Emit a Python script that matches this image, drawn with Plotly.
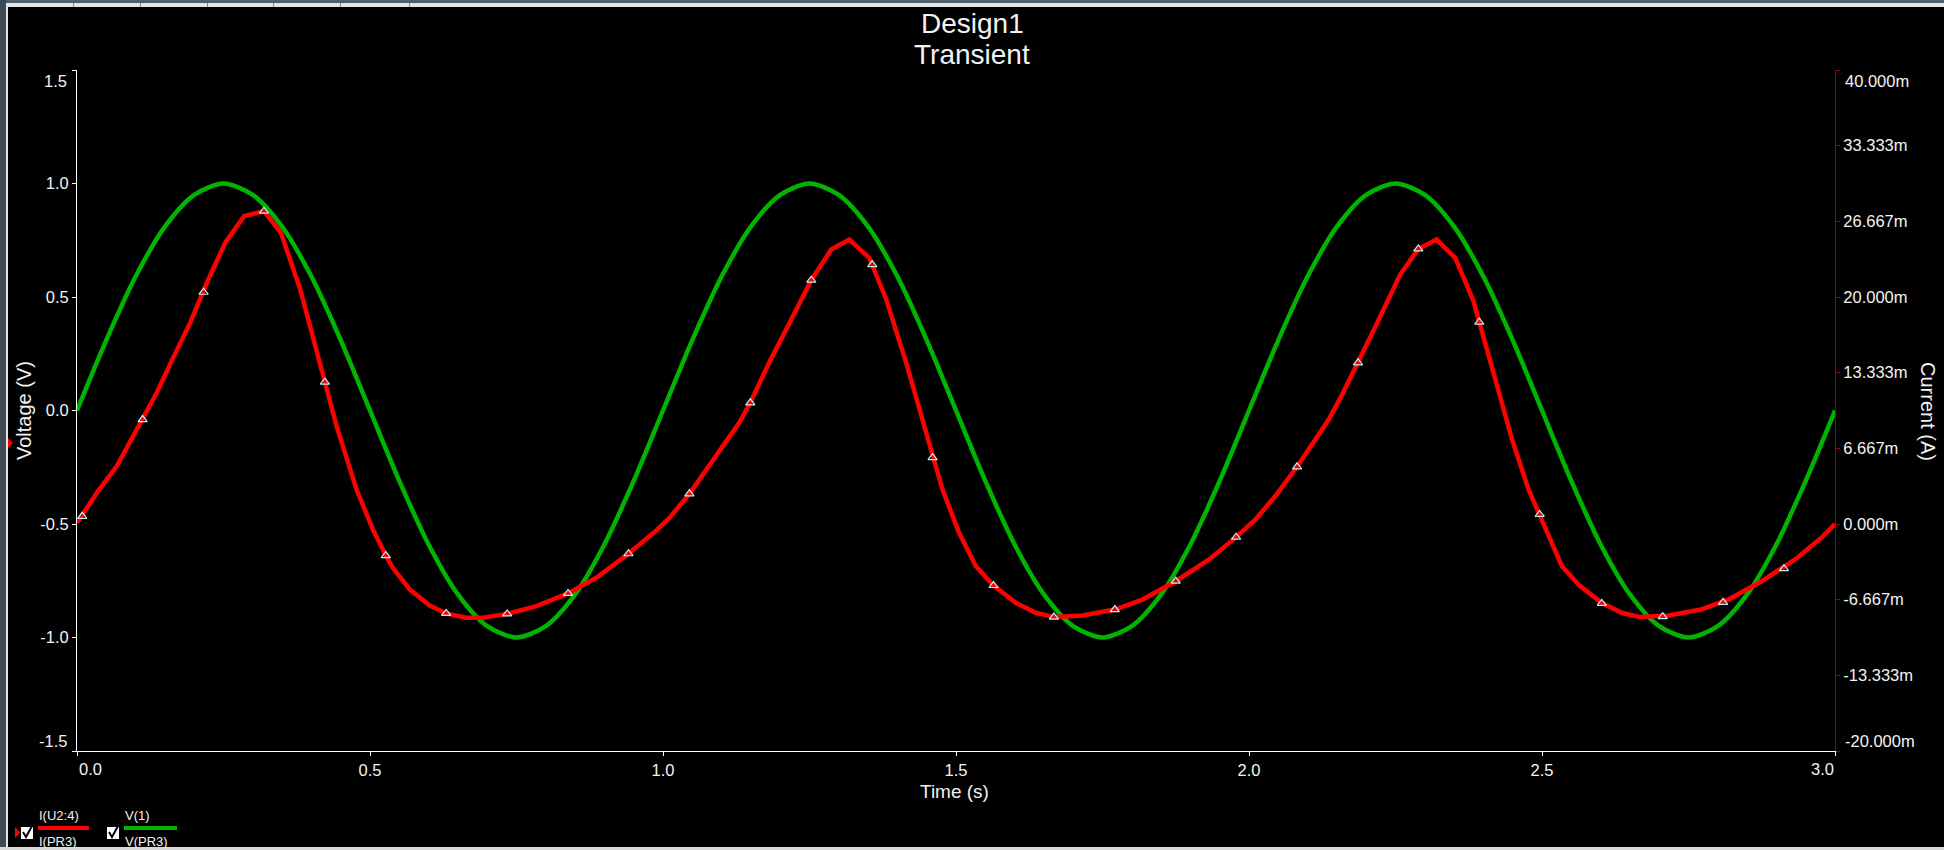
import plotly.graph_objects as go

# ---------------- data ----------------
green_t = [0.00, 0.05, 0.10, 0.15, 0.20, 0.25, 0.30, 0.35, 0.40, 0.45,
           0.50, 0.55, 0.60, 0.65, 0.70, 0.75, 0.80, 0.85, 0.90, 0.95,
           1.00, 1.05, 1.10, 1.15, 1.20, 1.25, 1.30, 1.35, 1.40, 1.45,
           1.50, 1.55, 1.60, 1.65, 1.70, 1.75, 1.80, 1.85, 1.90, 1.95,
           2.00, 2.05, 2.10, 2.15, 2.20, 2.25, 2.30, 2.35, 2.40, 2.45,
           2.50, 2.55, 2.60, 2.65, 2.70, 2.75, 2.80, 2.85, 2.90, 2.95, 3.00]
green_v = [0.00, 0.31, 0.59, 0.81, 0.95, 1.00, 0.95, 0.81, 0.59, 0.31,
           0.00, -0.31, -0.59, -0.81, -0.95, -1.00, -0.95, -0.81, -0.59, -0.31,
           0.00, 0.31, 0.59, 0.81, 0.95, 1.00, 0.95, 0.81, 0.59, 0.31,
           0.00, -0.31, -0.59, -0.81, -0.95, -1.00, -0.95, -0.81, -0.59, -0.31,
           0.00, 0.31, 0.59, 0.81, 0.95, 1.00, 0.95, 0.81, 0.59, 0.31,
           0.00, -0.31, -0.59, -0.81, -0.95, -1.00, -0.95, -0.81, -0.59, -0.31, 0.00]

# current I(U2:4) in mA
red_t = [0.000, 0.036, 0.068, 0.093, 0.136, 0.164, 0.193, 0.224, 0.253, 0.285,
         0.319, 0.348, 0.381, 0.423, 0.443, 0.477, 0.505, 0.527, 0.539, 0.568,
         0.602, 0.630, 0.664, 0.693, 0.734, 0.784, 0.838, 0.886, 0.941, 0.988,
         1.011, 1.045, 1.090, 1.130, 1.149, 1.181, 1.216, 1.253, 1.287, 1.318,
         1.352, 1.381, 1.415, 1.460, 1.477, 1.505, 1.534, 1.564, 1.602, 1.636,
         1.667, 1.716, 1.771, 1.818, 1.875, 1.932, 1.978, 2.011, 2.045, 2.082,
         2.107, 2.136, 2.159, 2.186, 2.216, 2.258, 2.289, 2.320, 2.352, 2.383,
         2.393, 2.420, 2.449, 2.477, 2.496, 2.534, 2.564, 2.602, 2.636, 2.667,
         2.716, 2.771, 2.818, 2.875, 2.932, 2.978, 3.000]
red_i = [0.10, 2.90, 5.10, 7.44, 11.56, 14.64, 17.72, 21.54, 24.78, 27.12,
         27.56, 25.66, 20.66, 12.50, 8.62, 3.04, -0.48, -2.78, -3.86, -5.78,
         -7.18, -7.88, -8.26, -8.26, -7.92, -7.24, -6.12, -4.74, -2.62, -0.60,
         0.54, 2.66, 5.98, 8.92, 10.68, 14.20, 17.72, 21.48, 24.18, 25.06,
         23.44, 19.78, 14.20, 5.84, 3.04, -0.76, -3.72, -5.42, -6.94, -7.82,
         -8.20, -8.06, -7.54, -6.66, -5.04, -3.12, -1.16, 0.40, 2.46, 5.04,
         7.00, 9.20, 11.40, 14.20, 17.42, 21.98, 24.24, 25.06, 23.44, 19.64,
         17.78, 12.74, 7.44, 3.04, 0.84, -3.72, -5.42, -6.94, -7.82, -8.20,
         -8.06, -7.54, -6.66, -5.04, -3.12, -1.16, 0.00]

marker_t = [0.009, 0.112, 0.216, 0.319, 0.423, 0.527, 0.630, 0.734, 0.838, 0.941,
            1.045, 1.149, 1.253, 1.357, 1.460, 1.564, 1.667, 1.771, 1.875, 1.978,
            2.082, 2.186, 2.289, 2.393, 2.496, 2.602, 2.706, 2.809, 2.913]
marker_i = [0.68, 9.20, 20.42, 27.56, 12.50, -2.78, -7.88, -7.92, -6.12, -2.62,
            2.66, 10.68, 21.48, 22.86, 5.84, -5.42, -8.20, -7.54, -5.04, -1.16,
            5.04, 14.20, 24.24, 17.78, 0.84, -7.00, -8.16, -6.90, -3.94]

x_ticks = [0.0, 0.5, 1.0, 1.5, 2.0, 2.5, 3.0]
x_ticktext = ["0.0", "0.5", "1.0", "1.5", "2.0", "2.5", "3.0"]
v_ticks = [-1.5, -1.0, -0.5, 0.0, 0.5, 1.0, 1.5]
v_ticktext = ["-1.5", "-1.0", "-0.5", "0.0", "0.5", "1.0", "1.5"]
i_ticks = [-20.0, -13.333, -6.667, 0.0, 6.667, 13.333, 20.0, 26.667, 33.333, 40.0]
i_ticktext = ["-20.000m", "-13.333m", "-6.667m", "0.000m", "6.667m",
              "13.333m", "20.000m", "26.667m", "33.333m", "40.000m"]

title_lines = ["Design1", "Transient"]
legend_red = ["I(U2:4)", "I(PR3)"]
legend_green = ["V(1)", "V(PR3)"]

# ---------------- layout geometry (pixels) ----------------
W, H = 1944, 850
L, R, T, B = 77, 109, 70, 99
PW, PH = W - L - R, H - T - B
FONT = "Liberation Sans, Arial, sans-serif"
TXT = "#f2f2f2"
TICK_SIZE = 16.5


def px(x):
    return (x - L) / PW


def py(y):
    return (H - B - y) / PH


fig = go.Figure()
fig.add_trace(go.Scatter(x=red_t, y=red_i, yaxis="y2", mode="lines",
                         line=dict(color="#ff0000", width=4.5), hoverinfo="skip"))
fig.add_trace(go.Scatter(x=green_t, y=green_v, mode="lines",
                         line=dict(color="#00b400", width=4.5, shape="spline", smoothing=0.8),
                         hoverinfo="skip"))
fig.add_trace(go.Scatter(x=marker_t, y=marker_i, yaxis="y2", mode="markers",
                         marker=dict(symbol="triangle-up-open", size=8,
                                     color="#bfeff2", line=dict(width=1.2, color="#bfeff2")),
                         hoverinfo="skip"))

shapes = []
annotations = []


def rect(x0, y0, x1, y1, color):
    shapes.append(dict(type="rect", xref="paper", yref="paper",
                       x0=px(x0), x1=px(x1), y0=py(y1), y1=py(y0),
                       fillcolor=color, line=dict(width=0), layer="above"))


# window frame bands
rect(0, 0, W, 3, "#4f5f6c")
rect(0, 3, W, 7, "#e4e4e4")
rect(0, 0, 6, H, "#3e4b56")
rect(6, 7, 8, H, "#e4e4e4")
rect(0, 847, W, H, "#d8d8d8")
for xm in [73, 140, 207, 273, 340, 409]:
    rect(xm, 3, xm + 1, 7, "#8a8a8a")

# small red marker at left border
shapes.append(dict(type="path", xref="paper", yref="paper",
                   path=f"M {px(8)},{py(438)} L {px(8)},{py(448)} L {px(13)},{py(443)} Z",
                   fillcolor="#ff0000", line=dict(width=0), layer="above"))

# legend
shapes.append(dict(type="path", xref="paper", yref="paper",
                   path=f"M {px(15)},{py(827)} L {px(15)},{py(838)} L {px(20)},{py(832.5)} Z",
                   fillcolor="#ff0000", line=dict(width=0), layer="above"))
for bx in [21, 107]:
    rect(bx, 827, bx + 12, 839, "#ffffff")
    shapes.append(dict(type="path", xref="paper", yref="paper",
                       path=f"M {px(bx+2)},{py(832)} L {px(bx+5)},{py(837)} L {px(bx+11)},{py(826)}",
                       line=dict(color="#000000", width=2), layer="above"))
shapes.append(dict(type="line", xref="paper", yref="paper",
                   x0=px(38), x1=px(89), y0=py(828), y1=py(828),
                   line=dict(color="#ff0000", width=4), layer="above"))
shapes.append(dict(type="line", xref="paper", yref="paper",
                   x0=px(124), x1=px(177), y0=py(828), y1=py(828),
                   line=dict(color="#00b400", width=4), layer="above"))


def text(s, x, y, size, xanchor="center", angle=0):
    annotations.append(dict(text=s, xref="paper", yref="paper", x=px(x), y=py(y),
                            xanchor=xanchor, yanchor="middle", showarrow=False,
                            textangle=angle, font=dict(family=FONT, size=size, color=TXT)))


text(legend_red[0], 37, 815, 13, "left")
text(legend_red[1], 37, 841, 13, "left")
text(legend_green[0], 123, 815, 13, "left")
text(legend_green[1], 123, 841, 13, "left")

text(title_lines[0], 972, 24, 28)
text(title_lines[1], 972, 54, 28)
text("Voltage (V)", 24, 411, 20, angle=-90)
text("Current (A)", 1928, 411, 20, angle=90)
text("Time (s)", 954, 791, 19)

# end-of-axis tick labels are drawn pulled inward, as in the reference
text(v_ticktext[-1], 69, 81, TICK_SIZE, "right")
text(v_ticktext[0], 69, 741, TICK_SIZE, "right")
text(i_ticktext[-1], 1843, 81, TICK_SIZE, "left")
text(i_ticktext[0], 1843, 741, TICK_SIZE, "left")
text(x_ticktext[0], 77, 769, TICK_SIZE, "left")
text(x_ticktext[-1], 1836, 769, TICK_SIZE, "right")

x_tt = [""] + x_ticktext[1:-1] + [""]
v_tt = [""] + v_ticktext[1:-1] + [""]
i_tt = [""] + i_ticktext[1:-1] + [""]

axis_common = dict(showgrid=False, zeroline=False, showline=True, linewidth=1,
                   ticks="outside", ticklen=4,
                   tickfont=dict(size=TICK_SIZE, color=TXT, family=FONT))

fig.update_layout(
    width=W, height=H,
    margin=dict(l=L, r=R, t=T, b=B, autoexpand=False),
    paper_bgcolor="#000000", plot_bgcolor="#000000",
    showlegend=False,
    font=dict(family=FONT, color=TXT),
    shapes=shapes, annotations=annotations,
    xaxis=dict(range=[0, 3], tickvals=x_ticks, ticktext=x_tt,
               linecolor="#ffffff", tickcolor="#ffffff", **axis_common),
    yaxis=dict(range=[-1.5, 1.5], tickvals=v_ticks, ticktext=v_tt,
               linecolor="#ffffff", tickcolor="#ffffff", **axis_common),
    yaxis2=dict(range=[-20, 40], tickvals=i_ticks, ticktext=i_tt,
                overlaying="y", side="right", anchor="x",
                linecolor="#a00000", tickcolor="#a00000", **axis_common),
)

fig.write_html("out.html",
               config={"displayModeBar": False},
               post_script="document.body.style.margin='0px';"
                           "document.body.style.overflow='hidden';"
                           "document.body.style.background='#000000';")
